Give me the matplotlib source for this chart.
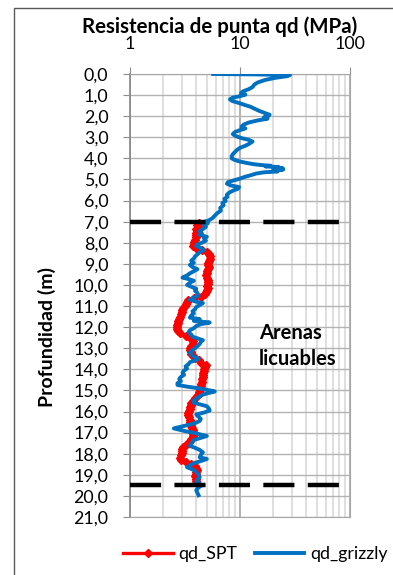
import matplotlib
matplotlib.use("Agg")
import matplotlib.pyplot as plt
from matplotlib.patches import Rectangle
from matplotlib.lines import Line2D
from matplotlib.ticker import FixedLocator, NullFormatter


# qd_grizzly: depth (m) / tip resistance (MPa)
grizzly_depth = [
    0.00, 0.02, 0.05, 0.10, 0.18, 0.28, 0.40, 0.50, 0.62, 0.72, 0.82, 0.90,
    0.98, 1.05, 1.12, 1.20, 1.28, 1.36, 1.45, 1.55, 1.65, 1.75, 1.85, 1.93,
    2.00, 2.05, 2.12, 2.20, 2.30, 2.40, 2.50, 2.58, 2.66, 2.75, 2.85, 2.95,
    3.05, 3.12, 3.20, 3.30, 3.40, 3.50, 3.60, 3.70, 3.80, 3.90, 4.00, 4.08,
    4.15, 4.22, 4.28, 4.32, 4.35, 4.38, 4.41, 4.44, 4.47, 4.50, 4.53, 4.57,
    4.62, 4.66, 4.72, 4.80, 4.88, 4.96, 5.04, 5.12, 5.20, 5.28, 5.36, 5.44,
    5.52, 5.62, 5.72, 5.82, 5.92, 6.02, 6.12, 6.22, 6.35, 6.48, 6.60, 6.72,
    6.84, 6.94, 7.00, 7.08, 7.15, 7.25, 7.35, 7.45, 7.55, 7.62, 7.72, 7.80,
    7.90, 8.00, 8.08, 8.15, 8.25, 8.35, 8.45, 8.55, 8.65, 8.75, 8.85, 8.95,
    9.05, 9.15, 9.25, 9.35, 9.45, 9.55, 9.65, 9.72, 9.80, 9.90, 10.00, 10.08,
    10.18, 10.28, 10.38, 10.50, 10.60, 10.70, 10.78, 10.86, 10.95, 11.05,
    11.15, 11.25, 11.35, 11.45, 11.55, 11.62, 11.70, 11.78, 11.86, 11.95,
    12.05, 12.15, 12.25, 12.35, 12.45, 12.55, 12.62, 12.70, 12.80, 12.90,
    13.00, 13.10, 13.20, 13.30, 13.40, 13.50, 13.58, 13.66, 13.76, 13.86,
    13.96, 14.06, 14.16, 14.26, 14.36, 14.46, 14.56, 14.66, 14.74, 14.82,
    14.90, 14.97, 15.05, 15.12, 15.20, 15.28, 15.38, 15.48, 15.58, 15.67,
    15.75, 15.85, 15.95, 16.05, 16.14, 16.25, 16.35, 16.45, 16.55, 16.65,
    16.72, 16.80, 16.88, 16.95, 17.02, 17.08, 17.16, 17.25, 17.35, 17.45,
    17.55, 17.63, 17.72, 17.82, 17.94, 18.05, 18.17, 18.25, 18.35, 18.45,
    18.55, 18.64, 18.72, 18.80, 18.88, 19.00, 19.11, 19.22, 19.34, 19.42,
    19.50, 19.60, 19.73, 19.85, 19.97,
]
grizzly_qd = [
    5.7, 14.0, 28.5, 27.0, 21.0, 17.0, 14.5, 13.5, 13.0, 12.0, 10.7, 10.2,
    11.2, 10.0, 8.6, 8.1, 8.5, 9.6, 10.8, 12.4, 13.6, 15.0, 16.8, 18.6,
    18.0, 16.5, 17.8, 14.5, 12.0, 10.8, 10.3, 11.2, 10.0, 9.0, 8.6, 9.2,
    10.5, 12.0, 13.0, 12.2, 11.2, 10.0, 9.4, 9.0, 8.6, 8.4, 8.4, 9.0,
    10.0, 11.6, 13.5, 16.0, 19.0, 17.0, 22.5, 20.0, 24.5, 21.5, 24.7, 20.0,
    22.0, 16.5, 14.0, 12.5, 11.0, 10.0, 8.8, 7.8, 7.6, 8.2, 9.8, 9.6,
    8.7, 8.0, 7.6, 7.7, 7.2, 7.4, 6.9, 7.1, 6.6, 6.7, 6.2, 5.9,
    5.6, 5.2, 4.8, 5.1, 4.7, 4.9, 4.6, 4.3, 4.5, 4.3, 5.0, 4.7,
    4.9, 4.5, 4.1, 4.0, 4.4, 4.7, 4.3, 4.1, 3.9, 3.8, 3.6, 3.8,
    3.5, 3.7, 4.1, 3.8, 3.5, 3.3, 3.0, 3.4, 3.8, 3.5, 3.3, 3.6,
    4.0, 3.9, 4.1, 4.2, 3.8, 3.5, 3.9, 4.6, 4.3, 4.0,
    3.9, 3.7, 3.8, 3.6, 3.5, 4.3, 3.8, 5.3, 4.4, 4.0,
    3.8, 3.5, 3.4, 3.6, 3.7, 4.2, 4.6, 4.4, 4.3, 4.1,
    3.9, 3.7, 3.5, 3.6, 3.8, 4.2, 3.9, 3.5, 3.4, 3.2,
    3.3, 3.1, 3.0, 3.1, 2.9, 2.8, 2.9, 2.7, 2.7, 3.3,
    4.2, 5.0, 5.9, 5.2, 4.6, 4.3, 4.0, 3.8, 3.8, 4.4,
    5.0, 5.2, 5.3, 4.7, 4.0, 4.2, 4.4, 4.3, 3.9, 3.3,
    2.9, 2.5, 2.9, 3.3, 3.9, 4.3, 5.0, 4.4, 3.8, 3.7,
    3.6, 3.5, 3.9, 4.3, 4.6, 4.4, 4.3, 5.0, 4.4, 3.8,
    3.5, 3.3, 3.6, 3.9, 4.0, 4.2, 4.3, 4.1, 4.0, 4.3,
    4.5, 4.2, 4.0, 4.1, 4.2,
]

# qd_SPT
spt_depth = [
    7.05, 7.15, 7.25, 7.35, 7.45, 7.55, 7.65, 7.75, 7.85, 7.95, 8.05, 8.15,
    8.25, 8.35, 8.45, 8.55, 8.65, 8.75, 8.85, 8.95, 9.05, 9.15, 9.25, 9.35,
    9.45, 9.55, 9.65, 9.75, 9.85, 9.95, 10.05, 10.15, 10.25, 10.35, 10.45,
    10.55, 10.62, 10.70, 10.80, 10.90, 11.00, 11.10, 11.20, 11.30, 11.40,
    11.50, 11.60, 11.70, 11.80, 11.90, 12.00, 12.10, 12.20, 12.30, 12.40,
    12.48, 12.58, 12.68, 12.78, 12.88, 12.98, 13.08, 13.18, 13.28, 13.38,
    13.48, 13.58, 13.68, 13.78, 13.88, 13.98, 14.08, 14.18, 14.28, 14.38,
    14.48, 14.58, 14.68, 14.78, 14.88, 14.98, 15.08, 15.18, 15.28, 15.38,
    15.48, 15.58, 15.68, 15.78, 15.88, 15.98, 16.08, 16.18, 16.28, 16.38,
    16.48, 16.58, 16.68, 16.78, 16.88, 16.98, 17.08, 17.18, 17.28, 17.38,
    17.48, 17.58, 17.68, 17.78, 17.88, 17.98, 18.08, 18.18, 18.28, 18.38,
    18.48, 18.58, 18.68, 18.78, 18.88, 18.98, 19.08, 19.18, 19.28,
]
spt_qd = [
    4.2, 4.1, 4.2, 4.0, 4.1, 4.0, 3.95, 4.0, 3.9, 3.85, 3.8, 3.75,
    4.0, 4.5, 5.0, 5.2, 5.35, 5.3, 5.2, 5.15, 5.1, 5.2, 5.15, 5.05,
    5.0, 4.95, 5.05, 5.1, 5.15, 5.1, 5.05, 5.1, 5.0, 4.9, 4.8,
    4.4, 3.8, 3.4, 3.3, 3.2, 3.15, 3.05, 3.0, 2.95, 2.9,
    2.85, 2.8, 2.75, 2.75, 2.7, 2.65, 2.65, 2.75, 2.85, 3.2,
    3.5, 3.6, 3.75, 3.7, 3.6, 3.5, 3.5, 3.55, 3.6, 3.7,
    3.9, 4.2, 4.45, 4.9, 4.8, 4.75, 4.7, 4.65, 4.6, 4.6,
    4.55, 4.5, 4.45, 4.4, 4.35, 4.3, 4.25, 4.2, 4.1, 3.9,
    3.7, 3.6, 3.55, 3.5, 3.5, 3.45, 3.4, 3.4, 3.45, 3.5,
    3.5, 3.55, 3.6, 3.65, 3.7, 3.75, 3.75, 3.7, 3.6, 3.5,
    3.4, 3.2, 3.05, 3.0, 2.95, 2.95, 2.9, 2.85, 2.9, 3.2,
    3.6, 3.9, 4.0, 4.05, 4.0, 3.95, 3.9, 3.95, 4.0,
]

limit_depths = [7.0, 19.5]
depth_ticks = list(range(0, 22))
qd_ticks = [1, 10, 100]

W, H = 393, 575


def fx(px):
    return px / W


def fy(py):
    return 1 - py / H


def main():
    plt.rcParams['font.family'] = ['Lato', 'DejaVu Sans']
    fig = plt.figure(figsize=(W / 100, H / 100), dpi=100)
    ax = fig.add_axes([fx(130), fy(517), fx(350) - fx(130), fy(74) - fy(517)])

    ax.plot(spt_qd, spt_depth, color='#ff0000', lw=2.4, marker='D',
            markersize=4, zorder=3)
    ax.plot(grizzly_qd, grizzly_depth, color='#0070c0', lw=2.8, zorder=4)
    for d in limit_depths:
        ax.plot([1, 100], [d, d], color='black', lw=3.2, dashes=(7, 3),
                solid_capstyle='butt', dash_capstyle='butt', zorder=5)

    ax.set_xscale('log')
    ax.set_xlim(1, 100)
    ax.set_ylim(21, 0)
    ax.xaxis.tick_top()
    ax.xaxis.set_major_locator(FixedLocator(qd_ticks))
    ax.set_xticklabels([str(t) for t in qd_ticks])
    minors = [m * 10 ** e for e in range(2) for m in range(2, 10)]
    ax.xaxis.set_minor_locator(FixedLocator(minors))
    ax.xaxis.set_minor_formatter(NullFormatter())
    ax.set_yticks(depth_ticks)
    ax.set_yticklabels([f"{d:.1f}".replace('.', ',') for d in depth_ticks])

    ax.tick_params(which='major', length=5, color='#8c8c8c', labelsize=12.8,
                   direction='out')
    ax.tick_params(axis='y', pad=10.5)
    ax.tick_params(axis='x', pad=11)
    ax.tick_params(which='minor', length=0)
    ax.grid(which='major', axis='x', color='#a6a6a6', lw=1.2)
    ax.grid(which='minor', axis='x', color='#d9d9d9', lw=1.2)
    ax.grid(which='major', axis='y', color='#b3b3b3', lw=1.0)
    for s in ax.spines.values():
        s.set_color('#a6a6a6')
    ax.spines['left'].set_color('#8c8c8c')
    ax.spines['left'].set_linewidth(1.3)

    fig.text(fx(220), fy(27), 'Resistencia de punta qd (MPa)', ha='center',
             va='center', fontsize=14.8, fontweight='bold')
    fig.text(fx(47), fy(337), 'Profundidad (m)', rotation=90, ha='center',
             va='center', fontsize=14, fontweight='bold')
    fig.text(fx(259), fy(346), 'Arenas\nlicuables', ha='left', va='center',
             fontsize=14.5, fontweight='bold', linespacing=1.35)

    handles = [
        Line2D([], [], color='#ff0000', lw=2.4, marker='D', markersize=4),
        Line2D([], [], color='#0070c0', lw=2.8),
    ]
    fig.legend(handles, ['qd_SPT', 'qd_grizzly'], loc='center',
               bbox_to_anchor=(fx(255), fy(554)), ncol=2, frameon=False,
               fontsize=12.8, handlelength=2.8, handletextpad=0.3,
               columnspacing=1.0)

    fig.patches.append(Rectangle((fx(14), -1), 2, fy(8) + 1,
                                 transform=fig.transFigure, fill=False,
                                 edgecolor='#595959', lw=1.0))
    fig.savefig('out.png', dpi=100)


if __name__ == "__main__":
    main()
